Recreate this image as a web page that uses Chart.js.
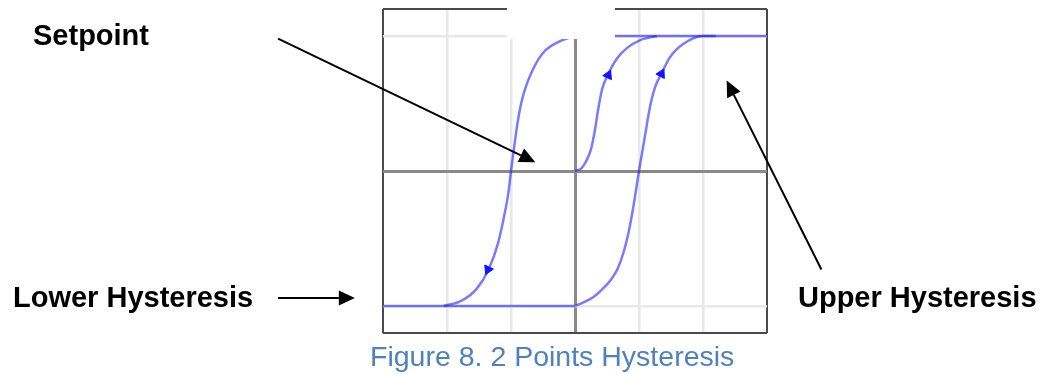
<!DOCTYPE html>
<html lang="en">
<head>
<meta charset="UTF-8">
<title>2 Points Hysteresis</title>
<script src="https://cdn.jsdelivr.net/npm/chart.js@4.4.0/dist/chart.umd.min.js"></script>
<style>
    body {
        margin: 0;
        background: #fff;
        font-family: 'Liberation Sans', Arial, sans-serif;
    }
    .wrap {
        position: relative;
        width: 1042px;
        height: 374px;
    }
    #hyst {
        position: absolute;
        left: 0;
        top: 0;
    }
    .label {
        position: absolute;
        font-weight: bold;
        font-size: 29px;
        line-height: 29px;
        color: #000;
        white-space: nowrap;
    }
    .caption {
        position: absolute;
        font-size: 28.5px;
        line-height: 28px;
        color: #4f81bd;
        white-space: nowrap;
    }
</style>
</head>
<body>
<div class="wrap">
    <canvas id="hyst" width="1042" height="374"></canvas>
    <div class="label" style="left:33px; top:21px;">Setpoint</div>
    <div class="label" style="left:13px; top:283px;">Lower Hysteresis</div>
    <div class="label" style="left:798px; top:283px;">Upper Hysteresis</div>
    <div class="caption" style="left:370px; top:342px;">Figure 8. 2 Points Hysteresis</div>
</div>

<script>
    // curve values (x: input, y: output)
    const bottomX = [-3, 0];
    const bottomY = [-1, -1];
    const topX = [0, 3];
    const topY = [1, 1];

    // falling branch, lower hysteresis
    const fallX = [-2.05, -1.77, -1.54, -1.35, -1.2, -1.11, -1.04, -1, -0.95, -0.89, -0.81, -0.66, -0.49, -0.24, 0];
    const fallY = [-1, -0.96, -0.875, -0.73, -0.53, -0.34, -0.16, 0, 0.18, 0.38, 0.56, 0.75, 0.88, 0.96, 1];

    // rising branch from the setpoint
    const midX = [0, 0.1, 0.16, 0.22, 0.26, 0.31, 0.36, 0.42, 0.52, 0.65, 0.81, 1.02, 1.28];
    const midY = [0, 0.02, 0.06, 0.12, 0.18, 0.3, 0.45, 0.6, 0.72, 0.83, 0.91, 0.97, 1];

    // rising branch, upper hysteresis
    const riseX = [0, 0.15, 0.3, 0.44, 0.57, 0.67, 0.76, 0.83, 0.91, 1, 1.09, 1.17, 1.25, 1.35, 1.48, 1.69, 2, 2.2];
    const riseY = [-1, -0.97, -0.93, -0.87, -0.8, -0.72, -0.6, -0.47, -0.27, 0, 0.25, 0.47, 0.62, 0.72, 0.84, 0.94, 1, 1];

    // direction markers on the branches
    const arrowX = [-1.36, 0.52, 1.35];
    const arrowY = [-0.73, 0.71, 0.72];

    const xTicks = [-3, -2, -1, 0, 1, 2, 3];
    const yTicks = [-1.2, -1, 0, 1, 1.2];

    function pts(xs, ys) {
        return xs.map((x, i) => ({ x: x, y: ys[i] }));
    }

    const curve = {
        showLine: true,
        borderColor: 'rgba(25, 25, 255, 0.58)',
        borderWidth: 2.5,
        pointRadius: 0,
        cubicInterpolationMode: 'monotone',
        fill: false
    };

    // black call-out arrows: tail -> tip, in chart units
    const callouts = [
        { from: [-4.64, 0.98], to: [-0.62, 0.065] },
        { from: [-4.64, -0.94], to: [-3.44, -0.94] },
        { from: [3.85, -0.73], to: [2.37, 0.67] }
    ];

    const overlay = {
        id: 'overlay',
        afterDatasetsDraw(chart) {
            const c = chart.ctx;
            // blank patch over the top of the plot, as in the source figure
            c.save();
            c.fillStyle = '#fff';
            c.fillRect(507, 0, 108, 39);
            c.restore();
        },
        afterDraw(chart) {
            const c = chart.ctx;
            const xs = chart.scales.x, ys = chart.scales.y;
            c.save();
            c.strokeStyle = '#000';
            c.fillStyle = '#000';
            c.lineWidth = 2;
            callouts.forEach(a => {
                const x1 = xs.getPixelForValue(a.from[0]), y1 = ys.getPixelForValue(a.from[1]);
                const x2 = xs.getPixelForValue(a.to[0]), y2 = ys.getPixelForValue(a.to[1]);
                const ang = Math.atan2(y2 - y1, x2 - x1);
                const len = 16, half = 7.5;
                const bx = x2 - Math.cos(ang) * len, by = y2 - Math.sin(ang) * len;
                c.beginPath();
                c.moveTo(x1, y1);
                c.lineTo(bx, by);
                c.stroke();
                c.beginPath();
                c.moveTo(x2, y2);
                c.lineTo(bx + Math.sin(ang) * half, by - Math.cos(ang) * half);
                c.lineTo(bx - Math.sin(ang) * half, by + Math.cos(ang) * half);
                c.closePath();
                c.fill();
            });
            c.restore();
        }
    };

    function gridColor(ctx, lo, hi) {
        const v = ctx.tick.value;
        if (v === lo || v === hi) return '#4a4a4a';
        if (v === 0) return '#8a8a8a';
        return '#e8e8e8';
    }
    function gridWidth(ctx, lo, hi) {
        const v = ctx.tick.value;
        if (v === lo || v === hi) return 2;
        if (v === 0) return 3;
        return 2.5;
    }

    new Chart(document.getElementById('hyst'), {
        type: 'scatter',
        data: {
            datasets: [
                Object.assign({ data: pts(bottomX, bottomY) }, curve),
                Object.assign({ data: pts(topX, topY) }, curve),
                Object.assign({ data: pts(fallX, fallY) }, curve),
                Object.assign({ data: pts(midX, midY) }, curve),
                Object.assign({ data: pts(riseX, riseY) }, curve),
                {
                    data: pts(arrowX, arrowY),
                    pointStyle: 'triangle',
                    pointRadius: 5.5,
                    rotation: [205, 25, 27],
                    backgroundColor: '#1010ff',
                    borderColor: '#1010ff',
                    borderWidth: 1
                }
            ]
        },
        options: {
            responsive: false,
            animation: false,
            events: [],
            layout: {
                padding: { left: 383, right: 275, top: 9, bottom: 41 }
            },
            plugins: {
                legend: { display: false },
                tooltip: { enabled: false }
            },
            scales: {
                x: {
                    type: 'linear',
                    min: -3,
                    max: 3,
                    afterBuildTicks: s => { s.ticks = xTicks.map(v => ({ value: v })); },
                    ticks: { display: false },
                    border: { display: false },
                    grid: {
                        drawTicks: false,
                        color: ctx => gridColor(ctx, -3, 3),
                        lineWidth: ctx => gridWidth(ctx, -3, 3)
                    }
                },
                y: {
                    type: 'linear',
                    min: -1.2,
                    max: 1.2,
                    afterBuildTicks: s => { s.ticks = yTicks.map(v => ({ value: v })); },
                    ticks: { display: false },
                    border: { display: false },
                    grid: {
                        drawTicks: false,
                        color: ctx => gridColor(ctx, -1.2, 1.2),
                        lineWidth: ctx => gridWidth(ctx, -1.2, 1.2)
                    }
                }
            }
        },
        plugins: [overlay]
    });
</script>
</body>
</html>
